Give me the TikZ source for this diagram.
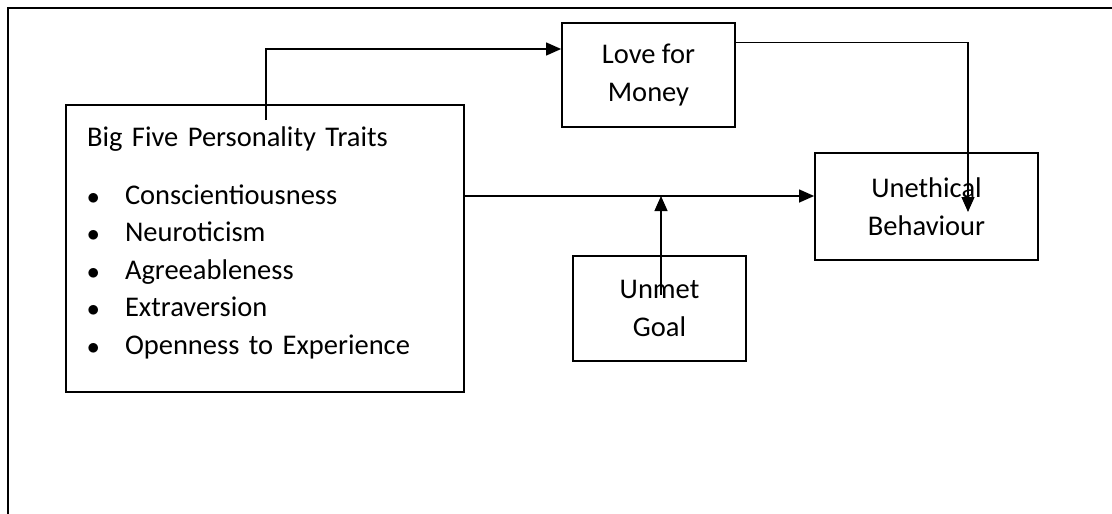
\documentclass[tikz,border=0pt]{standalone}
\usepackage{fontspec}
\setmainfont{Carlito}
\usetikzlibrary{arrows.meta}

\tikzstyle{construct} = [rectangle, draw=black, line width=1.8pt, align=center, font=\fontsize{28.5}{38.5}\selectfont]
\tikzstyle{arrow} = [line width=1.3pt, -{Triangle[length=15pt,width=13pt]}]
\newcommand{\trait}[1]{\makebox[38pt][l]{$\bullet$}#1}

\begin{document}
\begin{tikzpicture}[x=1pt,y=-1pt]
\clip (0,0) rectangle (1112,514);
% page frame, only top and left edges show
\draw [line width=2.2pt] (1130,8) -- (8,8) -- (8,530);

\node (traits) [construct, align=left, text width=356pt, inner xsep=21pt, inner ysep=0pt, text height=41pt, text depth=246pt, font=\fontsize{28.5}{37.5}\selectfont] at (265,248.5) {Big Five Personality Traits\\[20.5pt]
\trait{Conscientiousness}\\
\trait{Neuroticism}\\
\trait{Agreeableness}\\
\trait{Extraversion}\\
\trait{Openness to Experience}};
\node (love) [construct, minimum width=173pt, minimum height=104pt] at (648.5,75) {Love for\\Money};
\node (unethical) [construct, minimum width=223pt, minimum height=107pt] at (926.5,206.5) {Unethical\\Behaviour};
\node (unmet) [construct, minimum width=173pt, minimum height=105pt] at (659.5,308.5) {Unmet\\Goal};

\coordinate (traitsTop) at (266,120);
\coordinate (behTip) at (968,212);
\coordinate (goalTail) at (661,295);
\coordinate (pathMid) at (661,196);

\draw [arrow] (traitsTop) |- ([yshift=26pt]love.west);
\draw [arrow] ([yshift=32.7pt]love.east) -| (behTip);
\draw [arrow] ([yshift=52.5pt]traits.east) -- ([yshift=52.5pt]traits.east -| unethical.west);
\draw [arrow] (goalTail) -- (pathMid);

\end{tikzpicture}
\end{document}
